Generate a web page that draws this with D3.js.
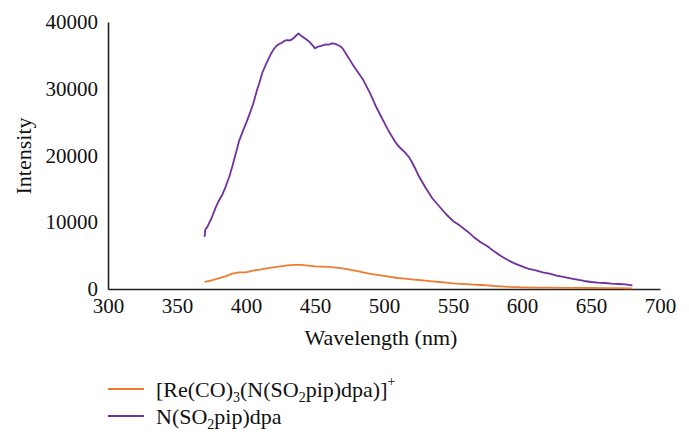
<!DOCTYPE html>
<html><head><meta charset="utf-8">
<script src="https://cdn.jsdelivr.net/npm/d3@7"></script>
<style>
body{margin:0;background:#fff;}
svg{display:block;}
svg text{font-family:"Liberation Serif","Times New Roman",serif;}
</style></head>
<body><svg id="c" width="689" height="439"></svg>
<script>
const xTicks = [300,350,400,450,500,550,600,650,700];
const yTicks = [0,10000,20000,30000,40000];

const ligandWl = [370,370.5,372,375,378,380,383,385,388,390,393,395,398,400,402,405,408,410,412,415,418,420,422,424,426,428,430,432,434,436,438,439,441,443,445,447,449,450,452,454,456,458,460,462,464,466,468,470,472,475,478,480,483,485,488,490,493,495,498,500,503,505,508,510,513,515,518,520,523,525,530,535,540,545,550,555,560,565,570,575,580,585,590,595,600,605,610,615,620,625,630,635,640,645,650,655,660,665,670,675,680];
const ligandI = [7800,8900,9300,10600,12200,13100,14200,15200,16900,18300,20600,22200,23800,24800,25900,27600,29800,31100,32500,33900,35200,35900,36400,36700,36900,37200,37300,37250,37500,37900,38300,38100,37800,37500,37200,36800,36300,36050,36300,36400,36550,36650,36600,36800,36750,36600,36400,36050,35400,34400,33400,32800,31900,31300,30100,29300,27900,27000,25800,25000,23800,23100,22100,21500,20900,20500,19800,19100,17900,17000,15200,13600,12400,11200,10200,9500,8700,7800,7000,6400,5600,4900,4300,3800,3400,3000,2800,2500,2300,2000,1800,1600,1400,1200,1050,950,900,800,750,700,550];

const complexWl = [370,375,380,385,390,395,400,405,410,415,420,425,430,435,440,445,450,455,460,465,470,475,480,485,490,495,500,505,510,515,520,525,530,535,540,545,550,555,560,565,570,575,580,585,590,595,600,610,620,630,640,650,660,670,680];
const complexI = [1050,1300,1600,1900,2300,2500,2500,2750,2900,3100,3250,3400,3550,3600,3600,3500,3400,3350,3300,3200,3100,2900,2700,2500,2250,2100,1950,1800,1650,1550,1450,1350,1250,1150,1050,950,850,780,720,650,600,550,450,400,320,280,250,220,200,180,160,150,130,120,100];

const svg = d3.select("#c");
const x = d3.scaleLinear().domain([300,700]).range([108,660]);
const y = d3.scaleLinear().domain([0,40000]).range([289,22]);
const serif = '"Liberation Serif","Times New Roman",serif';
const axisCol = "#222";
const txtCol = "#111";

const xa = svg.append("g").attr("transform","translate(0,289)")
  .call(d3.axisBottom(x).tickValues(xTicks).tickSize(0).tickPadding(9).tickFormat(d3.format("d")));
const ya = svg.append("g").attr("transform","translate(108,0)")
  .call(d3.axisLeft(y).tickValues(yTicks).tickSize(0).tickPadding(10).tickFormat(d3.format("d")));
[xa,ya].forEach(g=>{
  g.attr("font-family",null).attr("font-size",null);
  g.select(".domain").attr("stroke",axisCol).attr("stroke-width",1.6);
  g.selectAll("text").style("font-family",serif).style("font-size","21px").attr("fill",txtCol);
});

const line = d3.line().x(d=>x(d[0])).y(d=>y(d[1]));
const complexData = complexWl.map((w,i)=>[w,complexI[i]]);
const ligandData = ligandWl.map((w,i)=>[w,ligandI[i]]);

svg.append("path").datum(complexData).attr("d",line).attr("fill","none")
  .attr("stroke","#ED7D31").attr("stroke-width",1.8).attr("stroke-linejoin","round");
svg.append("path").datum(ligandData).attr("d",line).attr("fill","none")
  .attr("stroke","#7030A0").attr("stroke-width",1.8).attr("stroke-linejoin","round");

svg.append("text").attr("x",381).attr("y",345).attr("text-anchor","middle")
  .style("font-family",serif).style("font-size","22px").attr("fill",txtCol).text("Wavelength (nm)");
svg.append("text").attr("transform","translate(31,156) rotate(-90)").attr("text-anchor","middle")
  .style("font-family",serif).style("font-size","22px").attr("fill",txtCol).text("Intensity");

// legend
const leg = svg.append("g");
const items = [
  {c:"#ED7D31", y:397, parts:[["[Re(CO)",0],["3",5],["(N(SO",0],["2",5],["pip)dpa)]",0],["+",-11]]},
  {c:"#7030A0", y:424, parts:[["N(SO",0],["2",5],["pip)dpa",0]]}
];
items.forEach(it=>{
  leg.append("line").attr("x1",108).attr("x2",144).attr("y1",it.y-8).attr("y2",it.y-8)
    .attr("stroke",it.c).attr("stroke-width",2);
  const t = leg.append("text").attr("x",156).attr("y",it.y)
    .style("font-family",serif).style("font-size","22px").attr("fill",txtCol);
  let cur = 0;
  it.parts.forEach(p=>{
    const ts = t.append("tspan").text(p[0]).attr("dy", p[1]-cur);
    if(p[1]!==0) ts.style("font-size","14px");
    cur = p[1];
  });
});
</script></body></html>
